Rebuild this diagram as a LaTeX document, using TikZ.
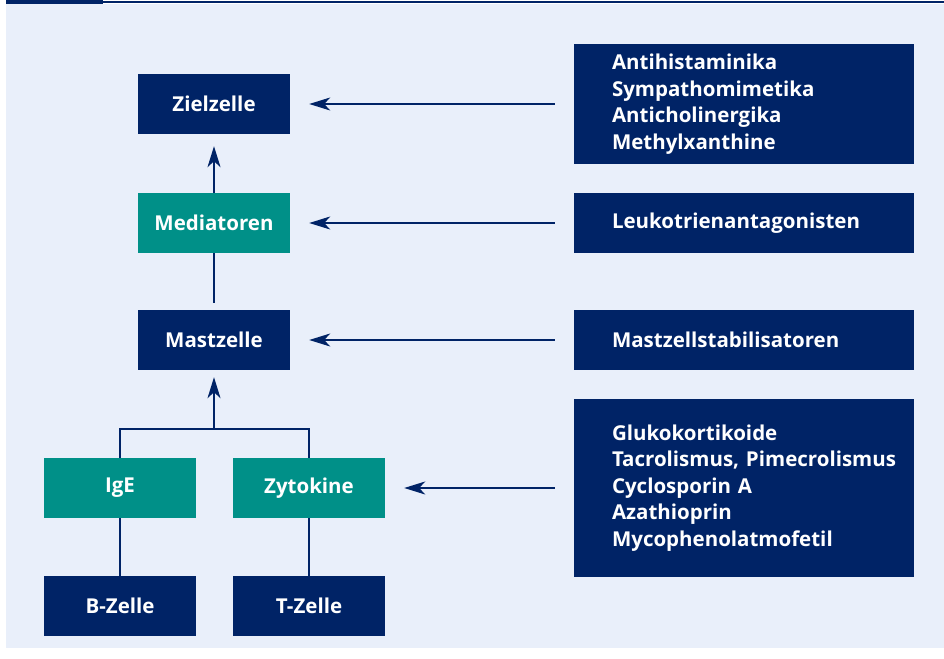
\documentclass[tikz,border=0pt]{standalone}
\usepackage{fontspec}
\setmainfont{Open Sans}
\usetikzlibrary{arrows.meta,positioning}
\definecolor{navy}{RGB}{0,35,102}
\definecolor{tuerkis}{RGB}{0,144,136}
\definecolor{hinter}{RGB}{233,239,250}
\tikzset{
  kasten/.style={rectangle, fill=navy, text=white, minimum width=152pt,
    minimum height=60pt, inner sep=0pt, font=\fontsize{20.5}{26.5}\selectfont\bfseries},
  gruen/.style={kasten, fill=tuerkis},
  liste/.style={kasten, minimum width=340pt, text width=340pt, align=left,
    execute at begin node={\leftskip=38pt}},
  pfeil/.style={-{Stealth[length=21pt,width=13pt,inset=6pt]}, draw=navy, line width=1.3pt},
  linie/.style={draw=navy, line width=1.3pt}
}
\begin{document}
\begin{tikzpicture}[x=1pt,y=-1pt]
    \useasboundingbox (0,0) rectangle (944,658);
    % Hintergrund und Kopfleiste
    \fill[hinter] (6,4.5) rectangle (944,648);
    \fill[navy] (6,0) rectangle (103,4.5);
    \draw[navy, line width=2pt] (103,2) -- (944,2);

    % linke Seite
    \node[kasten] (ziel) at (214,104) {Zielzelle};
    \node[gruen] (med) at (214,223) {Mediatoren};
    \node[kasten] (mast) at (214,340) {Mastzelle};
    \node[gruen] (ige) at (120,488) {IgE};
    \node[gruen] (zyt) at (309,488) {Zytokine};
    \node[kasten] (bz) at (120,606) {B-Zelle};
    \node[kasten] (tz) at (309,606) {T-Zelle};
    \coordinate (knoten) at (214,429);

    % rechte Seite
    \node[liste, minimum height=119pt] (r1) at (744,104)
        {Antihistaminika\\Sympathomimetika\\Anticholinergika\\Methylxanthine};
    \node[liste] (r2) at (744,223) {Leukotrienantagonisten};
    \node[liste] (r3) at (744,340) {Mastzellstabilisatoren};
    \node[liste, minimum height=178pt] (r4) at (744,488)
        {Glukokortikoide\\Tacrolismus, Pimecrolismus\\Cyclosporin A\\Azathioprin\\Mycophenolatmofetil};

    % Verbindungen
    \draw[pfeil, shorten >=12pt] (med) -- (ziel);
    \draw[linie, shorten <=7pt] (mast) -- (med);
    \draw[linie] (ige) -- (bz);
    \draw[linie] (zyt) -- (tz);
    \draw[linie] (ige.north) |- (knoten) -| (zyt.north);
    \draw[pfeil, shorten >=7pt] (knoten) -- (mast);
    \draw[pfeil, shorten <=19pt, shorten >=19pt] (r1) -- (ziel);
    \draw[pfeil, shorten <=19pt, shorten >=19pt] (r2) -- (med);
    \draw[pfeil, shorten <=19pt, shorten >=19pt] (r3) -- (mast);
    \draw[pfeil, shorten <=19pt, shorten >=19pt] (r4) -- (zyt);
\end{tikzpicture}
\end{document}
